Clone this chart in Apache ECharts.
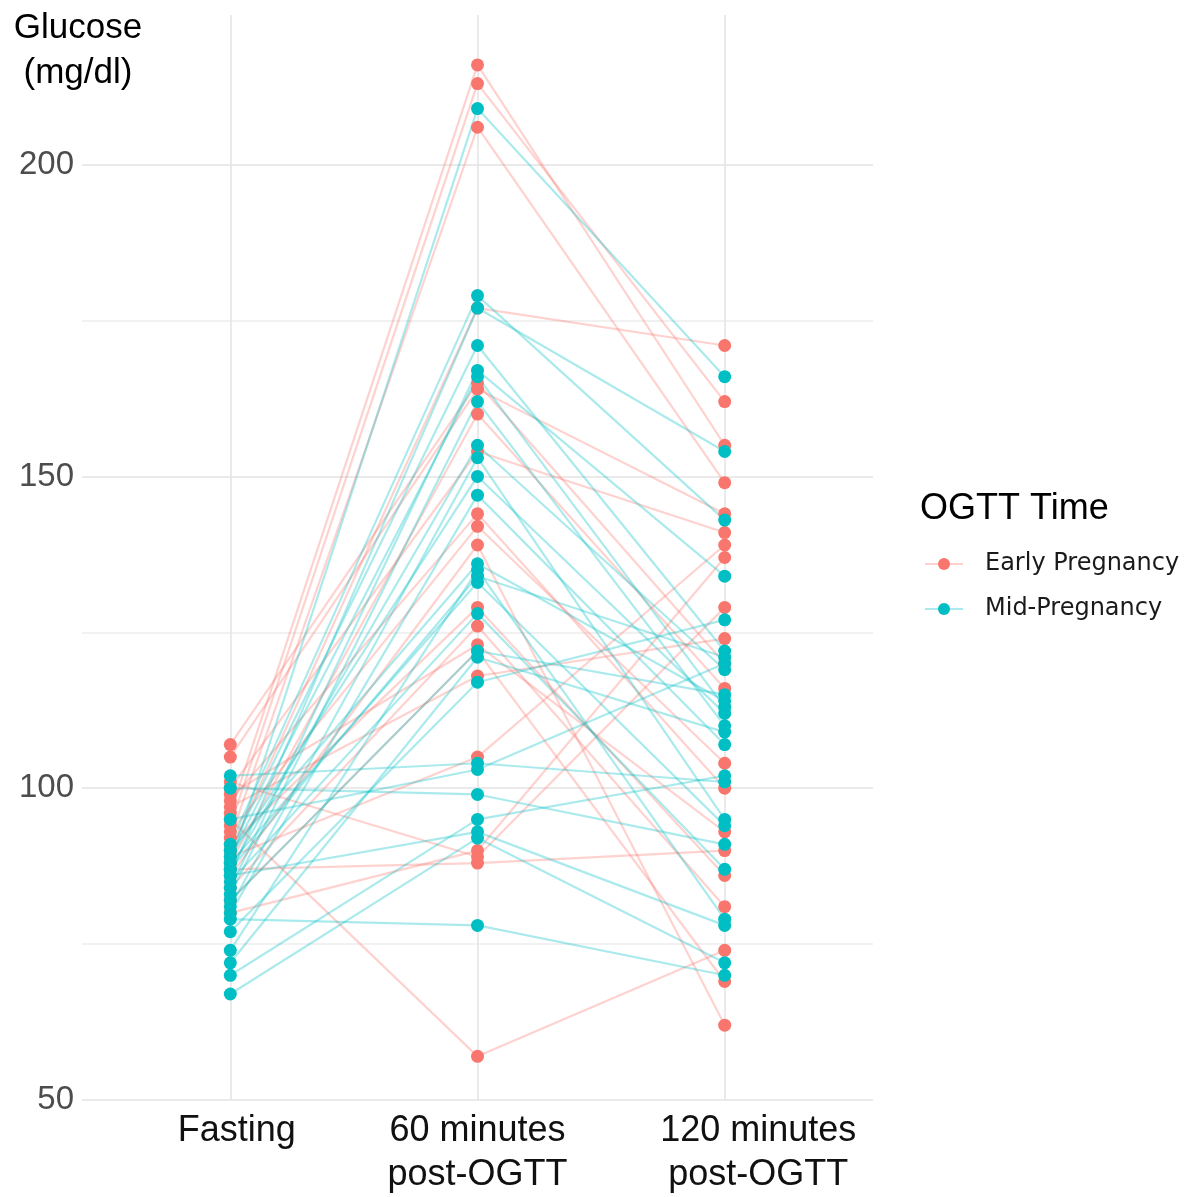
<!DOCTYPE html>
<html>
<head>
<meta charset="utf-8">
<title>Glucose OGTT</title>
<script src="https://cdn.jsdelivr.net/npm/echarts@6/dist/echarts.min.js"></script>
<style>
    html, body { margin: 0; padding: 0; background: #fff; }
    #main { width: 1197px; height: 1197px; }
</style>
</head>
<body>
<div id="main"></div>
<script>
var timePoints = ['Fasting', '60 minutes\npost-OGTT', '120 minutes\npost-OGTT'];
var yLabelTicks = [50, 100, 150, 200];
var yGridTicks = [50, 75, 100, 125, 150, 175, 200];

// one entry per subject, same index across the three arrays
var earlyFasting = [96, 94, 92, 90, 107, 105, 88, 100, 98, 93, 86, 91, 84, 99, 82, 97, 89, 80, 101, 87, 95];
var early60 = [216, 213, 206, 177, 165, 164, 160, 154, 144, 142, 139, 129, 126, 123, 122, 118, 105, 90, 89, 88, 57];
var early120 = [155, 162, 149, 171, 120, 144, 116, 141, 100, 104, 62, 86, 81, 93, 69, 124, 139, 137, 129, 90, 74];

var midFasting = [88, 91, 86, 90, 84, 89, 83, 87, 81, 89, 80, 90, 74, 87, 88, 85, 82, 72, 77, 102, 95, 100, 70, 86, 67, 79];
var mid60 = [209, 179, 177, 171, 167, 166, 162, 155, 153, 150, 147, 136, 135, 134, 133, 128, 122, 121, 117, 104, 103, 99, 95, 93, 92, 78];
var mid120 = [166, 143, 154, 122, 134, 113, 110, 119, 95, 112, 107, 114, 79, 121, 94, 87, 115, 109, 127, 101, 120, 91, 102, 78, 72, 70];

var red = '#F8766D';
var teal = '#00BFC4';

var myChart = echarts.init(document.getElementById('main'));

function buildGroup(name, color, f, s, t) {
    var lines = [];
    var pts = [];
    for (var i = 0; i < f.length; i++) {
        lines.push({
            name: name,
            type: 'line',
            symbol: 'circle',
            symbolSize: 13,
            showSymbol: false,
            silent: true,
            z: 2,
            itemStyle: { color: color },
            lineStyle: { color: color, width: 2.2, opacity: 0.33 },
            data: [[1, f[i]], [2, s[i]], [3, t[i]]]
        });
        pts.push([1, f[i]], [2, s[i]], [3, t[i]]);
    }
    var scatter = {
        name: name,
        type: 'scatter',
        symbol: 'circle',
        symbolSize: 13,
        z: 3,
        itemStyle: { color: color, opacity: 1 },
        data: pts
    };
    return { lines: lines, scatter: scatter };
}

var early = buildGroup('Early Pregnancy', red, earlyFasting, early60, early120);
var mid = buildGroup('Mid-Pregnancy', teal, midFasting, mid60, mid120);

// lines first, then points, red before teal
var series = early.lines.concat(mid.lines, [early.scatter, mid.scatter]);

myChart.setOption({
    animation: false,
    backgroundColor: '#fff',
    title: [{
        text: 'Glucose\n(mg/dl)',
        left: 73,
        top: 1,
        textAlign: 'center',
        textStyle: { fontFamily: 'Liberation Sans', fontSize: 35, fontWeight: 'normal', color: '#000', lineHeight: 45 }
    }, {
        text: 'OGTT Time',
        left: 915,
        top: 484,
        textStyle: { fontFamily: 'Liberation Sans', fontSize: 36, fontWeight: 'normal', color: '#000', lineHeight: 40 }
    }],
    legend: {
        orient: 'vertical',
        left: 919,
        top: 546,
        itemWidth: 38,
        itemHeight: 15,
        itemGap: 19,
        data: ['Early Pregnancy', 'Mid-Pregnancy'],
        textStyle: { fontFamily: 'DejaVu Sans', fontSize: 24, color: '#1a1a1a', lineHeight: 26, padding: [0, 0, 0, 17] }
    },
    grid: { left: 82, right: 324, top: 15, bottom: 93 },
    xAxis: {
        type: 'value',
        min: 0.4,
        max: 3.6,
        axisLine: { show: false },
        axisTick: { show: false, customValues: [1, 2, 3] },
        axisLabel: {
            customValues: [1.026, 2, 3.136],
            formatter: function (v) { return timePoints[Math.round(v) - 1]; },
            fontFamily: 'Liberation Sans',
            fontSize: 36,
            color: '#111',
            lineHeight: 44,
            margin: 9
        },
        splitLine: { show: true, lineStyle: { color: '#e3e3e3', width: 1.5 } }
    },
    yAxis: {
        type: 'value',
        min: 50,
        max: 224,
        axisLine: { show: false },
        axisTick: { show: false, customValues: yGridTicks },
        axisLabel: {
            customValues: yLabelTicks,
            fontFamily: 'Liberation Sans',
            fontSize: 33,
            color: '#4d4d4d',
            margin: 8
        },
        splitLine: { show: true, lineStyle: { color: ['#e3e3e3', '#ececec'], width: 1.5 } }
    },
    series: series
});
</script>
</body>
</html>
